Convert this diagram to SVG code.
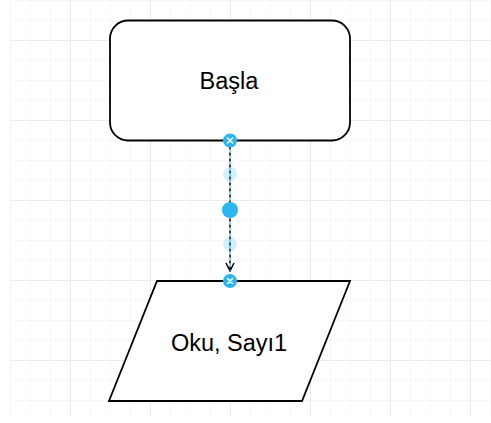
<svg xmlns="http://www.w3.org/2000/svg" width="491" height="423" viewBox="0 0 491 423">
<defs>
<pattern id="minor" x="10" y="0" width="20" height="20" patternUnits="userSpaceOnUse">
<path d="M0 0V20M0 0H20" fill="none" stroke="#f1f1f1" stroke-width="1"/>
</pattern>
<pattern id="major" x="-10" y="-40" width="80" height="80" patternUnits="userSpaceOnUse">
<path d="M0 0V80M0 0H80" fill="none" stroke="#e2e2e2" stroke-width="1"/>
</pattern>
<marker id="arr" viewBox="0 0 10 10" refX="9" refY="5" markerWidth="10" markerHeight="10" markerUnits="userSpaceOnUse" orient="auto">
<path d="M1 1L9 5L1 9" fill="none" stroke="#000" stroke-width="1.5"/>
</marker>
</defs>
<style>
.shape{fill:#fff;stroke:#000;stroke-width:1.8}
.lbl{font-family:"Liberation Sans",Arial,sans-serif;font-size:23.5px;fill:#000;text-anchor:middle}
.h{fill:#29b6f2}
.hl{fill:#29b6f2;opacity:0.2}
.x{stroke:#fff;stroke-width:1.6;stroke-linecap:round}
</style>
<rect width="491" height="423" fill="#fff"/>
<g id="grid">
<rect x="10" y="0" width="481" height="416" fill="url(#minor)"/>
<rect x="10" y="0" width="481" height="416" fill="url(#major)"/>
</g>
<g id="basla">
<rect class="shape" x="110" y="20.5" width="240" height="120" rx="18" ry="18"/>
<text class="lbl" x="229" y="88.5">Başla</text>
</g>
<g id="oku">
<polygon class="shape" points="157,281 350,281 302,401 109,401"/>
<text class="lbl" x="229" y="351">Oku, Sayı1</text>
</g>
<g id="connectors">
<line x1="230" y1="140.5" x2="230" y2="271" stroke="#000" stroke-width="1.5" stroke-dasharray="3 3" marker-end="url(#arr)"/>
<line x1="230" y1="140.5" x2="230" y2="271" stroke="#29b6f2" stroke-width="1" stroke-dasharray="3 3" stroke-dashoffset="3"/>
<circle class="hl" cx="230" cy="174" r="7"/>
<circle class="hl" cx="230" cy="244" r="7"/>
<circle class="h" cx="230" cy="210" r="8"/>
<circle class="h" cx="230" cy="140.5" r="7"/>
<path class="x" d="M227.5 138L232.5 143M232.5 138L227.5 143"/>
<circle class="h" cx="230" cy="281" r="7"/>
<path class="x" d="M227.5 278.5L232.5 283.5M232.5 278.5L227.5 283.5"/>
</g>
</svg>
